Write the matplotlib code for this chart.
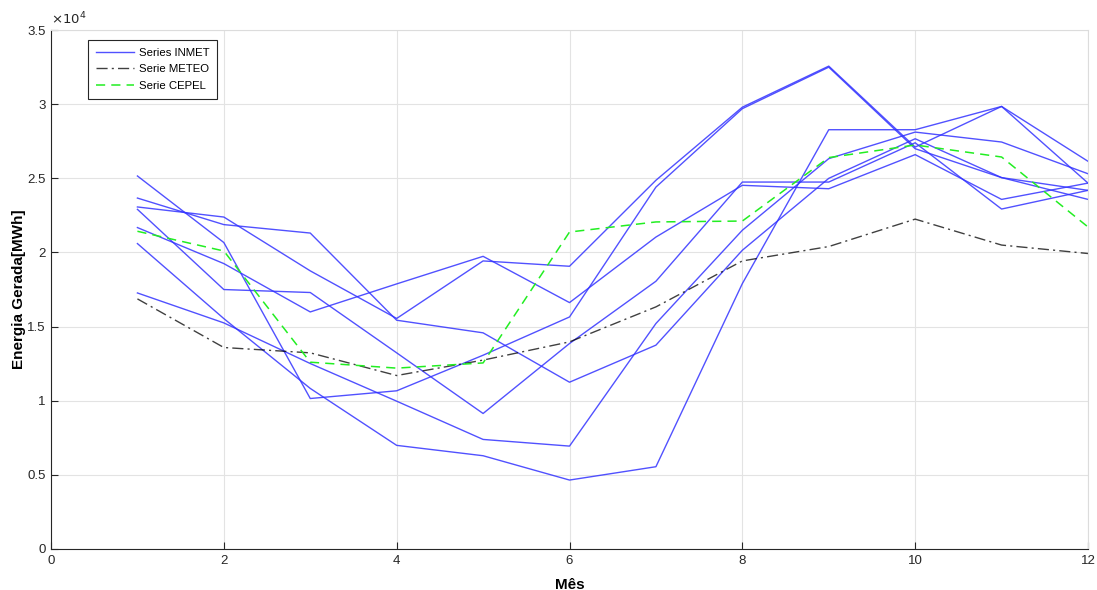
import numpy as np
import matplotlib.pyplot as plt
from matplotlib.ticker import FuncFormatter

plt.rcParams['font.family'] = ['Liberation Sans', 'DejaVu Sans']

meses = np.arange(1, 13)

# INMET series (7 lines), MWh
inmet = [
    [25160, 20670, 10150, 10670, 13070, 15650, 24410, 29700, 32500, 27000, 25050, 23580],
    [23670, 21880, 21310, 15430, 14580, 11250, 13750, 20150, 25000, 27670, 25050, 24190],
    [23070, 22390, 18760, 15550, 19430, 19070, 24870, 29800, 32570, 27110, 29850, 24680],
    [22910, 17500, 17300, 13230, 9140, 13860, 18060, 24750, 24750, 27400, 22930, 24190],
    [21680, 19250, 15990, 17880, 19740, 16620, 21040, 24530, 24300, 26600, 23580, 24680],
    [20600, 15540, 10830, 6990, 6290, 4650, 5550, 17900, 28280, 28280, 29850, 26150],
    [17270, 15250, 12510, 9970, 7390, 6940, 15210, 21500, 26330, 28120, 27450, 25310],
]
meteo = [16870, 13590, 13230, 11700, 12740, 13970, 16330, 19430, 20400, 22250, 20500, 19930]
cepel = [21430, 20100, 12600, 12200, 12550, 21380, 22060, 22120, 26400, 27250, 26440, 21720]

fig = plt.figure(figsize=(10.97, 5.90), dpi=100)
ax = fig.add_axes([0.0465, 0.0695, 0.9453, 0.8795])

for i, serie in enumerate(inmet):
    ax.plot(meses, serie, color=(0.2, 0.2, 1.0), lw=1.0, alpha=0.85,
            label='Series INMET' if i == 0 else None)
ax.plot(meses, meteo, color='k', lw=1.0, ls=(0, (8, 3, 1.5, 3)), alpha=0.75, label='Serie METEO')
ax.plot(meses, cepel, color='#22ee22', lw=1.1, ls=(0, (6, 4)), label='Serie CEPEL')

ax.set_xlim(0, 12)
ax.set_ylim(0, 35000)
ax.set_xticks(range(0, 13, 2))
ax.set_yticks(range(0, 35001, 5000))
ax.yaxis.set_major_formatter(FuncFormatter(lambda v, p: f'{v/1e4:g}'))
ax.grid(True, color='#e3e3e3', lw=0.8)
ax.set_axisbelow(True)
ax.tick_params(direction='in', length=5, width=0.8, labelsize=9.5, colors='#262626', pad=4)
for side in ['left', 'bottom']:
    ax.spines[side].set_color('#262626')
    ax.spines[side].set_linewidth(0.8)
for side in ['top', 'right']:
    ax.spines[side].set_color('#dcdcdc')
    ax.spines[side].set_linewidth(0.8)

ax.text(0.0, 1.005, r'$\times10^4$', transform=ax.transAxes, fontsize=9.5,
        color='#262626', va='bottom', ha='left')

ax.set_xlabel('Mês', fontsize=11, fontweight='bold', labelpad=8)
ax.set_ylabel('Energia Gerada[MWh]', fontsize=11, fontweight='bold', labelpad=1)

leg = ax.legend(loc='upper left', bbox_to_anchor=(0.0357, 0.9807), fontsize=8.2,
                fancybox=False, framealpha=1, edgecolor='#262626', borderaxespad=0,
                handlelength=3.3, handletextpad=0.45, borderpad=0.7, labelspacing=0.55)
leg.get_frame().set_linewidth(0.8)

fig.savefig('out.png', dpi=100)
